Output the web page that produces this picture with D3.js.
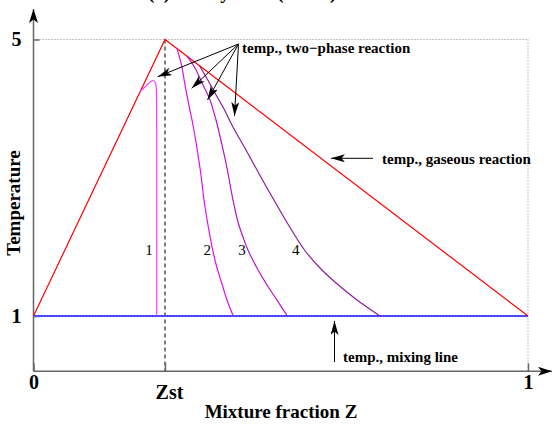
<!DOCTYPE html>
<html><head><meta charset="utf-8">
<script src="https://cdn.jsdelivr.net/npm/d3@7"></script>
<style>
html,body{margin:0;padding:0;background:#fff;}
svg{display:block;}
text{font-family:"Liberation Serif","Times New Roman",serif;}
</style></head>
<body>
<script>
// ---- data ----
const zst = 0.2659;
const gasZ = [0, zst, 1];
const gasT = [1, 5, 1];
const mixZ = [0, 1];
const mixT = [1, 1];
const curve1Z = [0.2164, 0.2255, 0.2315, 0.2376, 0.2427, 0.2463, 0.2483, 0.2489, 0.2491, 0.2491];
const curve1T = [4.255, 4.313, 4.356, 4.392, 4.407, 4.378, 4.298, 4.125, 3.691, 1];
const curve2Z = [0.2902, 0.2993, 0.3064, 0.3134, 0.3225, 0.3312, 0.3387, 0.3448, 0.3529, 0.3624, 0.3711, 0.3806, 0.3913, 0.4040];
const curve2T = [4.868, 4.631, 4.342, 4.081, 3.763, 3.401, 3.040, 2.678, 2.316, 1.955, 1.694, 1.477, 1.231, 1];
const curve3Z = [0.3104, 0.3266, 0.3428, 0.3569, 0.3691, 0.3812, 0.3913, 0.4034, 0.4135, 0.4236, 0.4337, 0.4520, 0.4722, 0.4924, 0.5132];
const curve3T = [4.758, 4.588, 4.342, 4.125, 3.835, 3.474, 3.141, 2.678, 2.360, 2.143, 1.955, 1.694, 1.448, 1.231, 1];
const curve4Z = [0.3357, 0.3468, 0.3670, 0.3873, 0.4034, 0.4297, 0.4520, 0.4722, 0.4863, 0.5157, 0.5480, 0.5794, 0.6118, 0.6542, 0.7007];
const curve4T = [4.620, 4.486, 4.226, 3.966, 3.734, 3.401, 3.112, 2.852, 2.678, 2.316, 1.955, 1.694, 1.477, 1.231, 1];
const curveLabels = ["1", "2", "3", "4"];
const labelZ = [0.2336, 0.3515, 0.4216, 0.5302];
const labelT = [1.955, 1.955, 1.955, 1.955];
const yTicks = [1, 5];
const yTickLabels = ["1", "5"];
const xTicks = [0, zst, 1];
const xTickLabels = ["0", "Zst", "1"];

// ---- layout ----
const W = 553, H = 431;
const x = d3.scaleLinear().domain([0, 1]).range([33.5, 528]);
const y = d3.scaleLinear().domain([1, 5]).range([316, 39.5]);
const T_MIN = 0.2;

const svg = d3.select("body").append("svg").attr("width", W).attr("height", H);
const defs = svg.append("defs");
function marker(id, len, wid) {
  defs.append("marker").attr("id", id)
    .attr("viewBox", `0 ${-wid/2} ${len} ${wid}`)
    .attr("refX", len).attr("refY", 0)
    .attr("markerUnits", "userSpaceOnUse")
    .attr("markerWidth", len).attr("markerHeight", wid)
    .attr("orient", "auto")
    .append("path").attr("d", `M0,${-wid/2}L${len},0L0,${wid/2}L${len*0.25},0Z`).attr("fill", "#000");
}
marker("ah", 14, 8);
marker("ahAxis", 14, 9);

// title (clipped at top, as in the reference)
svg.append("text").attr("x", 148).attr("y", -1)
  .attr("font-size", 19).attr("font-weight", "bold").attr("fill", "#000")
  .text("(a) Steady state (dilute)");

// reference guide lines
svg.append("line").attr("x1", x(0)).attr("x2", x(1)).attr("y1", y(5)).attr("y2", y(5))
  .attr("stroke", "#888").attr("stroke-width", 1).attr("stroke-dasharray", "1,2");
svg.append("line").attr("x1", x(1)).attr("x2", x(1)).attr("y1", y(5)).attr("y2", y(T_MIN))
  .attr("stroke", "#888").attr("stroke-width", 1).attr("stroke-dasharray", "1,2");
svg.append("line").attr("x1", x(zst)).attr("x2", x(zst)).attr("y1", y(5)).attr("y2", y(T_MIN))
  .attr("stroke", "#555").attr("stroke-width", 1.5).attr("stroke-dasharray", "4,3");

// axes
const yAxis = d3.axisLeft(y).tickValues(yTicks).tickSize(-6).tickPadding(12)
  .tickFormat((d, i) => yTickLabels[i]);
const gy = svg.append("g").attr("transform", `translate(${x(0)},0)`).call(yAxis);
const xAxis = d3.axisBottom(x).tickValues(xTicks).tickSize(-8).tickPadding(3)
  .tickFormat((d, i) => xTickLabels[i]);
const gx = svg.append("g").attr("transform", `translate(0,${y(T_MIN)})`).call(xAxis);
[gx, gy].forEach(g => {
  g.select(".domain").remove();
  g.selectAll(".tick line").attr("stroke", "#666").attr("stroke-width", 1.5);
  g.selectAll(".tick text").attr("font-size", 20).attr("font-weight", "bold").attr("fill", "#000")
    .attr("font-family", "Liberation Serif, serif");
});
gx.selectAll(".tick text").filter((d, i) => i === 1).attr("dy", "1.25em").attr("dx", "4");

svg.append("line").attr("x1", x(0)).attr("x2", 552).attr("y1", y(T_MIN)).attr("y2", y(T_MIN))
  .attr("stroke", "#666").attr("stroke-width", 1.5).attr("marker-end", "url(#ahAxis)");
svg.append("line").attr("x1", x(0)).attr("x2", x(0)).attr("y1", y(T_MIN)).attr("y2", 9)
  .attr("stroke", "#666").attr("stroke-width", 1.5).attr("marker-end", "url(#ahAxis)");

// axis titles
svg.append("text").attr("transform", `translate(20,203) rotate(-90)`)
  .attr("text-anchor", "middle").attr("font-size", 19).attr("font-weight", "bold").text("Temperature");
svg.append("text").attr("x", 281).attr("y", 418)
  .attr("text-anchor", "middle").attr("font-size", 19).attr("font-weight", "bold").text("Mixture fraction Z");

// lines
const line = d3.line().x(d => x(d[0])).y(d => y(d[1]));
const smooth = d3.line().x(d => x(d[0])).y(d => y(d[1])).curve(d3.curveCatmullRom.alpha(0.5));

svg.append("path").datum(mixZ.map((z, i) => [z, mixT[i]])).attr("d", line)
  .attr("fill", "none").attr("stroke", "#3a3aff").attr("stroke-width", 2.2);
svg.append("path").datum(mixZ.map((z, i) => [z, mixT[i]])).attr("d", line)
  .attr("fill", "none").attr("stroke", "#9a9aff").attr("stroke-width", 1).attr("stroke-dasharray", "1,2");

svg.append("path").datum(gasZ.map((z, i) => [z, gasT[i]])).attr("d", line)
  .attr("fill", "none").attr("stroke", "#ff0000").attr("stroke-width", 1.2);

const curves = [
  {Z: curve1Z, T: curve1T, color: "#ff3cff"},
  {Z: curve2Z, T: curve2T, color: "#e010ec"},
  {Z: curve3Z, T: curve3T, color: "#bb10cc"},
  {Z: curve4Z, T: curve4T, color: "#8e1c9e"}
];
curves.forEach(c => {
  svg.append("path").datum(c.Z.map((z, i) => [z, c.T[i]])).attr("d", smooth)
    .attr("fill", "none").attr("stroke", c.color).attr("stroke-width", 1.2);
});

// curve numbers
curveLabels.forEach((t, i) => {
  svg.append("text").attr("x", x(labelZ[i])).attr("y", y(labelT[i]) + 5)
    .attr("text-anchor", "middle").attr("font-size", 15).text(t);
});

// annotations
const ann = svg.append("g");
const origin = [238.5, 44];
const tips = [[157.7, 76.7], [191.7, 88.3], [207.5, 100], [234.5, 116]];
tips.forEach(t => {
  ann.append("line").attr("x1", origin[0]).attr("y1", origin[1]).attr("x2", t[0]).attr("y2", t[1])
    .attr("stroke", "#000").attr("stroke-width", 1).attr("marker-end", "url(#ah)");
});
ann.append("text").attr("x", 242).attr("y", 53).attr("font-size", 15).attr("font-weight", "bold")
  .text("temp., two\u2212phase reaction");

ann.append("line").attr("x1", 373).attr("y1", 158.3).attr("x2", 331).attr("y2", 158.3)
  .attr("stroke", "#000").attr("stroke-width", 1).attr("marker-end", "url(#ah)");
ann.append("text").attr("x", 382).attr("y", 163.5).attr("font-size", 15).attr("font-weight", "bold")
  .text("temp., gaseous reaction");

ann.append("line").attr("x1", 334.5).attr("y1", 362).attr("x2", 334.5).attr("y2", 321)
  .attr("stroke", "#000").attr("stroke-width", 1).attr("marker-end", "url(#ah)");
ann.append("text").attr("x", 343).attr("y", 362).attr("font-size", 15).attr("font-weight", "bold")
  .text("temp., mixing line");
</script>
</body></html>
